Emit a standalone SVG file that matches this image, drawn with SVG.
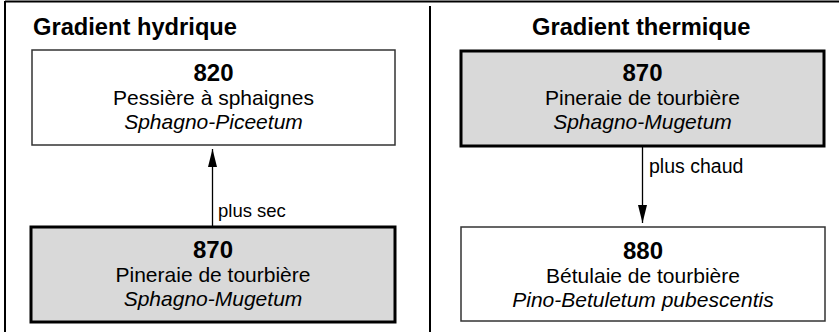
<svg xmlns="http://www.w3.org/2000/svg" width="839" height="332" viewBox="0 0 839 332">
<style>
.frame{stroke:#000;stroke-width:2;fill:none}
.box{fill:#fff;stroke:#333;stroke-width:1.5}
.hl{fill:#d9d9d9;stroke:#000;stroke-width:3}
.title{font-family:"Liberation Sans",Arial,sans-serif;font-weight:bold;font-size:23.7px;fill:#000}
.num{font-family:"Liberation Sans",Arial,sans-serif;font-weight:bold;font-size:24px;fill:#000;text-anchor:middle}
.txt{font-family:"Liberation Sans",Arial,sans-serif;font-size:21px;fill:#000;text-anchor:middle}
.it{font-family:"Liberation Sans",Arial,sans-serif;font-style:italic;font-size:21px;fill:#000;text-anchor:middle}
.lbl{font-family:"Liberation Sans",Arial,sans-serif;font-size:18.5px;fill:#000}
.conn{stroke:#000;stroke-width:1.3;fill:none}
</style>
<defs>
<marker id="ah" viewBox="0 0 18 9" refX="18" refY="4.5" markerWidth="18" markerHeight="9" markerUnits="userSpaceOnUse" orient="auto">
<path d="M0,0 L18,4.5 L0,9 Z" fill="#000"/>
</marker>
</defs>
<g id="frame">
<line class="frame" x1="5" y1="1.5" x2="839" y2="1.5"/>
<line class="frame" x1="5" y1="1" x2="5" y2="332"/>
<line class="frame" x1="430" y1="6" x2="430" y2="332"/>
</g>
<text class="title" x="33" y="35">Gradient hydrique</text>
<text class="title" x="532" y="35">Gradient thermique</text>
<g id="n820">
<rect class="box" x="32" y="50" width="363" height="95"/>
<text class="num" x="213.5" y="81">820</text>
<text class="txt" x="213.5" y="105">Pessière à sphaignes</text>
<text class="it" x="213.5" y="129">Sphagno-Piceetum</text>
</g>
<g id="n870a">
<rect class="hl" x="31" y="227" width="364" height="95"/>
<text class="num" x="213" y="258">870</text>
<text class="txt" x="213" y="282">Pineraie de tourbière</text>
<text class="it" x="213" y="306">Sphagno-Mugetum</text>
</g>
<g id="n870b">
<rect class="hl" x="461" y="51" width="363" height="95"/>
<text class="num" x="642.5" y="81">870</text>
<text class="txt" x="642.5" y="105">Pineraie de tourbière</text>
<text class="it" x="642.5" y="129">Sphagno-Mugetum</text>
</g>
<g id="n880">
<rect class="box" x="461" y="227" width="364" height="94"/>
<text class="num" x="643" y="259">880</text>
<text class="txt" x="643" y="283">Bétulaie de tourbière</text>
<text class="it" x="643" y="307">Pino-Betuletum pubescentis</text>
</g>
<g id="connectors">
<line class="conn" x1="212.5" y1="227" x2="212.5" y2="149" marker-end="url(#ah)"/>
<text class="lbl" x="218" y="217">plus sec</text>
<line class="conn" x1="642.5" y1="147" x2="642.5" y2="223" marker-end="url(#ah)"/>
<text class="lbl" x="649" y="173" style="font-size:19.5px">plus chaud</text>
</g>
</svg>
